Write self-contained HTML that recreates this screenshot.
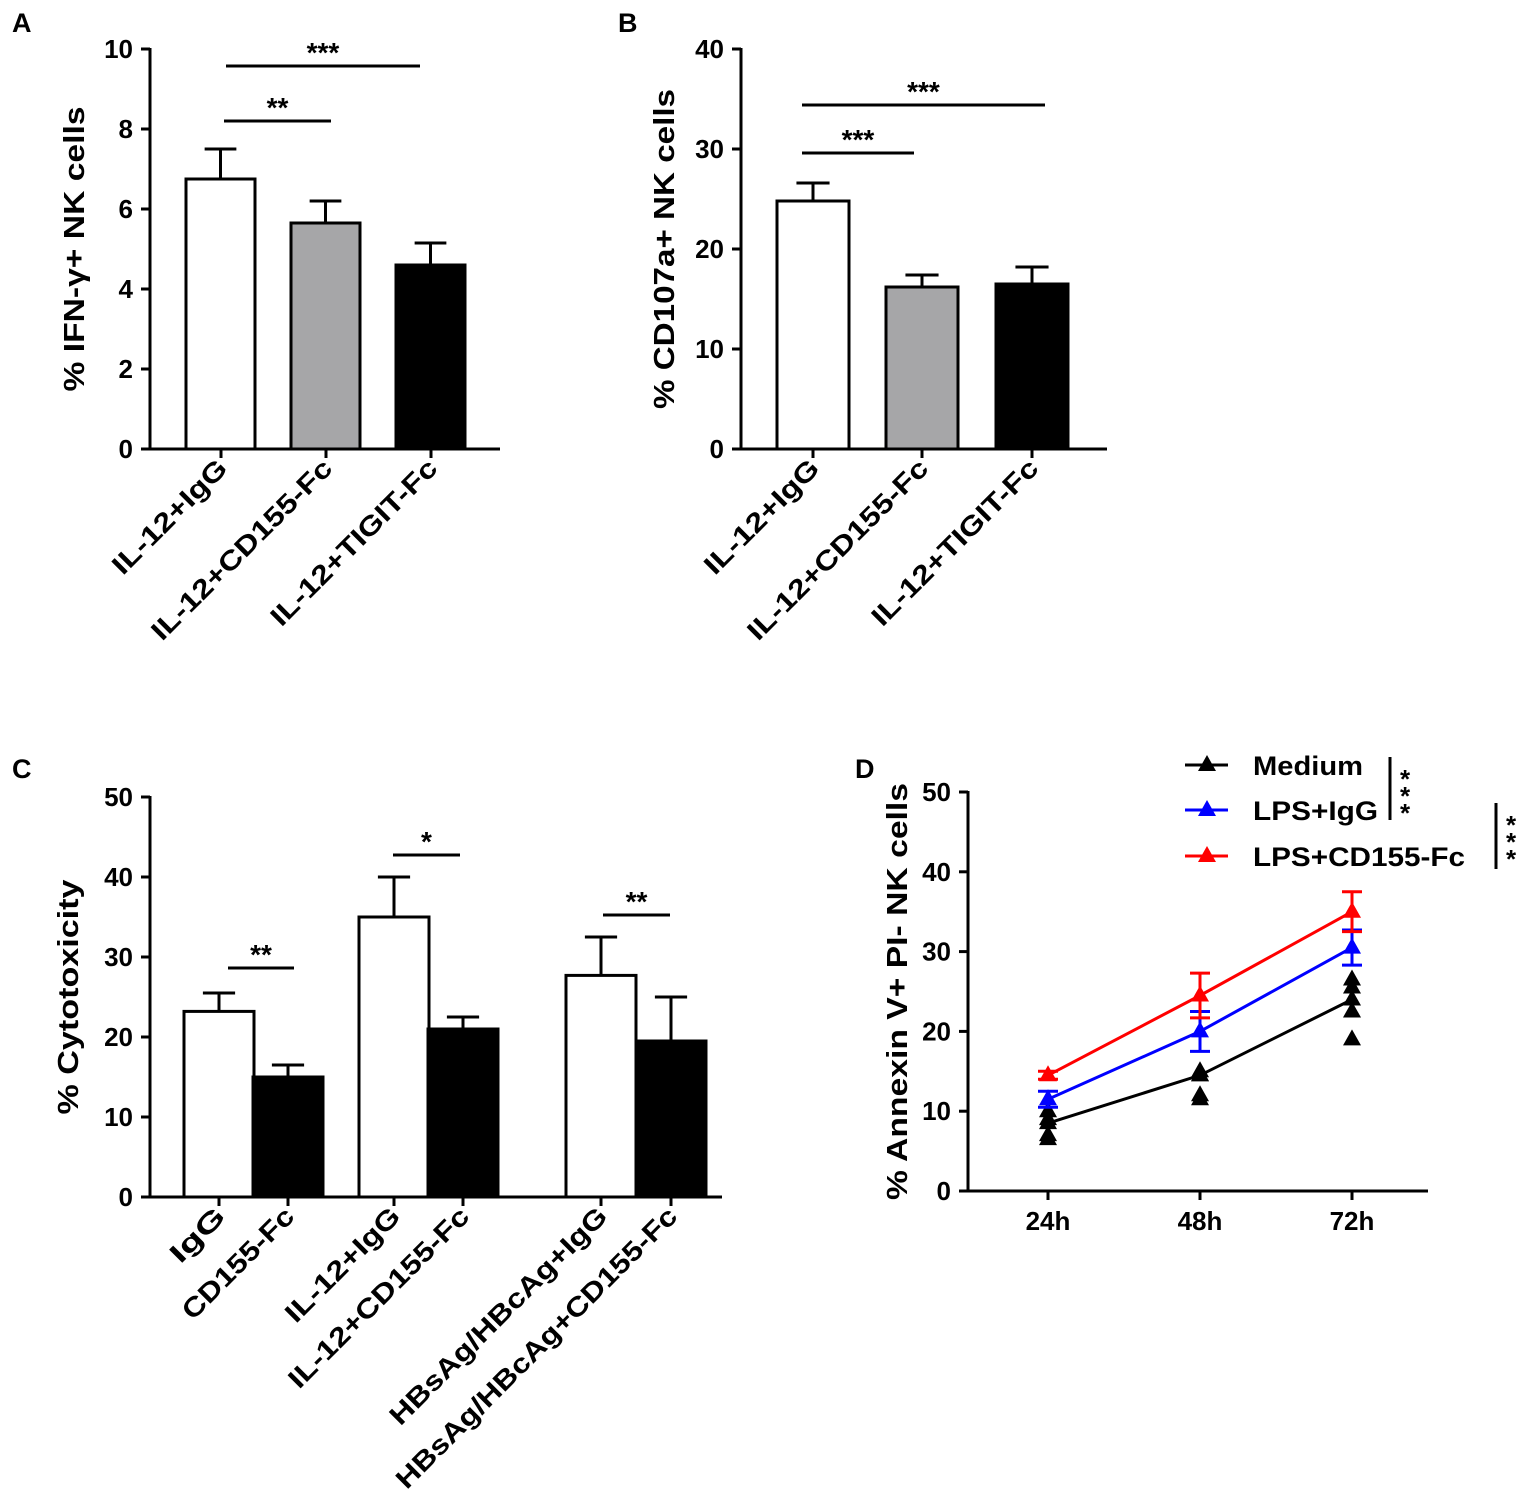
<!DOCTYPE html>
<html><head><meta charset="utf-8"><style>
html,body{margin:0;padding:0;background:#fff;}
svg{display:block;font-family:"Liberation Sans",Arial,sans-serif;font-weight:bold;}
</style></head><body>
<svg id="fig" width="1535" height="1497" viewBox="0 0 1535 1497" xmlns="http://www.w3.org/2000/svg"></svg>
<script>
// Panel A
const aCats=["IL-12+IgG","IL-12+CD155-Fc","IL-12+TIGIT-Fc"];
const aVals=[6.75,5.65,4.6];
const aErr=[0.75,0.55,0.55];
const aTicks=[0,2,4,6,8,10];
// Panel B
const bCats=["IL-12+IgG","IL-12+CD155-Fc","IL-12+TIGIT-Fc"];
const bVals=[24.8,16.2,16.5];
const bErr=[1.8,1.2,1.7];
const bTicks=[0,10,20,30,40];
// Panel C
const cCats=["IgG","CD155-Fc","IL-12+IgG","IL-12+CD155-Fc","HBsAg/HBcAg+IgG","HBsAg/HBcAg+CD155-Fc"];
const cVals=[23.2,15,35,21,27.7,19.5];
const cErr=[2.3,1.5,5,1.5,4.8,5.5];
const cTicks=[0,10,20,30,40,50];
// Panel D
const dTimes=["24h","48h","72h"];
const dMedium=[8.5,14.5,24];
const dIgG=[11.5,20,30.5];
const dCD155=[14.5,24.5,35];
const dIgGErr=[1,2.5,2.2];
const dCD155Err=[0.5,2.8,2.5];
const dMedPts=[[6.5,7,9,10],[11.5,12,14.5,15],[19,22.5,25.5,26.5]];
const dTicks=[0,10,20,30,40,50];

const NS="http://www.w3.org/2000/svg";
const svg=document.getElementById('fig');
function mk(tag,attrs,parent,txt){const e=document.createElementNS(NS,tag);for(const k in attrs)e.setAttribute(k,attrs[k]);if(txt!==undefined)e.textContent=txt;(parent||svg).appendChild(e);return e;}
function grp(name,parent){const g=mk('g',{},parent);return g;}
function line(g,x1,y1,x2,y2,col,w){return mk('line',{x1,y1,x2,y2,stroke:col||'#000','stroke-width':w||3},g);}
function text(g,x,y,s,size,anchor,extra){return mk('text',Object.assign({x,y,'font-size':size,'text-anchor':anchor||'middle',fill:'#000'},extra||{}),g,s);}
const LEN={"IL-12+IgG":150,"IL-12+CD155-Fc":243,"IL-12+TIGIT-Fc":223,"IgG":66,"CD155-Fc":146,"HBsAg/HBcAg+IgG":295,"HBsAg/HBcAg+CD155-Fc":385};

function yAxis(g,x,y0,y1,ticks,maxv,title,titleX,titleLen){
  const sy=v=>y0-(v/maxv)*(y0-y1);
  line(g,x,y0+1,x,y1-1);
  ticks.forEach(v=>{const y=sy(v);line(g,x-9,y,x,y);const t=text(g,x-17,y+9,String(v),26,'end');});
  const cy=(y0+y1)/2;
  const tt=text(g,titleX,cy,title,29,'middle',{transform:`rotate(-90 ${titleX} ${cy})`,textLength:titleLen,lengthAdjust:'spacingAndGlyphs'});
  
  return sy;
}
function xLabel(g,x,y,s){const t=text(g,x+8,y,s,27,'end',{transform:`rotate(-45 ${x+8} ${y})`,textLength:LEN[s],lengthAdjust:'spacingAndGlyphs'});}
function sig(g,x1,x2,y,s){line(g,x1,y,x2,y);const t=text(g,(x1+x2)/2,y-4,s,28);}
function bar(g,x,w,v,err,sy,fill){
  const y=sy(v),y0=sy(0);
  const r=mk('rect',{x,y,width:w,height:y0-y,fill,stroke:'#000','stroke-width':3},g);
  
  const ye=sy(v+err),cx=x+w/2;
  line(g,cx,y,cx,ye);line(g,cx-w*0.23,ye,cx+w*0.23,ye);
}
function letter(x,y,s){const t=text(svg,x,y,s,27,'start');}

// ---- A ----
{const g=grp('panel-a');
 const sy=yAxis(g,150,449,49,aTicks,10,'% IFN-γ+ NK cells',84,285);
 line(g,150,449,500,449);
 const xs=[186,291,396],fills=['#fff','#a6a6a8','#000'];
 aVals.forEach((v,i)=>{bar(g,xs[i],69,v,aErr[i],sy,fills[i]);const c=xs[i]+35;line(g,c,449,c,458);xLabel(g,c,470,aCats[i]);});
 sig(g,226,420,66,'***');sig(g,224,331,121,'**');
 letter(12,32,'A');}
// ---- B ----
{const g=grp('panel-b');
 const sy=yAxis(g,741,449,49,bTicks,40,'% CD107a+ NK cells',674,320);
 line(g,741,449,1107,449);
 const xs=[777,886,996],fills=['#fff','#a6a6a8','#000'];
 bVals.forEach((v,i)=>{bar(g,xs[i],72,v,bErr[i],sy,fills[i]);const c=xs[i]+36;line(g,c,449,c,458);xLabel(g,c,470,bCats[i]);});
 sig(g,802,1045,105,'***');sig(g,802,914,153,'***');
 letter(618,32,'B');}
// ---- C ----
{const g=grp('panel-c');
 const sy=yAxis(g,150,1197,797,cTicks,50,'% Cytotoxicity',78,235);
 line(g,150,1197,722,1197);
 const xs=[184,253,359,428,566,636];
 cVals.forEach((v,i)=>{bar(g,xs[i],70,v,cErr[i],sy,i%2?'#000':'#fff');const c=xs[i]+35;line(g,c,1197,c,1206);xLabel(g,c,1218,cCats[i]);});
 sig(g,228,294,968,'**');sig(g,393,460,855,'*');sig(g,603,670,915,'**');
 letter(12,778,'C');}
// ---- D ----
{const g=grp('panel-d');
 const sy=yAxis(g,968,1191,792,dTicks,50,'% Annexin V+ PI- NK cells',907,417);
 line(g,968,1191,1428,1191);
 const xs=[1048,1200,1352];
 const sx=i=>xs[i];
 dTimes.forEach((t,i)=>{line(g,sx(i),1191,sx(i),1200);const tl=text(g,sx(i),1230,t,26);});
 function tri(x,y,col){const p=mk('path',{d:`M${x} ${y-10} L${x+9} ${y+6} L${x-9} ${y+6} Z`,fill:col},g);}
 function series(vals,err,col,name){
   const pl=mk('polyline',{points:vals.map((v,i)=>sx(i)+','+sy(v)).join(' '),fill:'none',stroke:col,'stroke-width':3},g);
   
   if(err)vals.forEach((v,i)=>{const x=sx(i);line(g,x,sy(v-err[i]),x,sy(v+err[i]),col);line(g,x-10,sy(v+err[i]),x+10,sy(v+err[i]),col);line(g,x-10,sy(v-err[i]),x+10,sy(v-err[i]),col);});
   vals.forEach((v,i)=>tri(sx(i),sy(v),col));
 }
 dMedPts.forEach((pts,i)=>pts.forEach(v=>tri(sx(i),sy(v),'#000')));
 series(dMedium,null,'#000','medium');
 series(dIgG,dIgGErr,'#0000ff','lps-igg');
 series(dCD155,dCD155Err,'#ff0000','lps-cd155');
 const lg=grp('legend',g);
 [['Medium','#000',765,110],['LPS+IgG','#0000ff',810,125],['LPS+CD155-Fc','#ff0000',856,212]].forEach(([s,c,y,len])=>{
   const e=grp('legend-entry',lg);
   line(e,1185,y,1228,y,c);
   mk('path',{d:`M1207 ${y-10} L1216 ${y+6} L1198 ${y+6} Z`,fill:c},e);
   text(e,1253,y+10,s,27,'start',{textLength:len,lengthAdjust:'spacingAndGlyphs'});
 });
 line(g,1390,757,1390,820);
 [777,794,811].forEach(y=>text(g,1405,y+11,'*',26));
 line(g,1496,803,1496,869);
 [823,840,857].forEach(y=>text(g,1511,y+11,'*',26));
 letter(855,778,'D');}
</script>
</body></html>
